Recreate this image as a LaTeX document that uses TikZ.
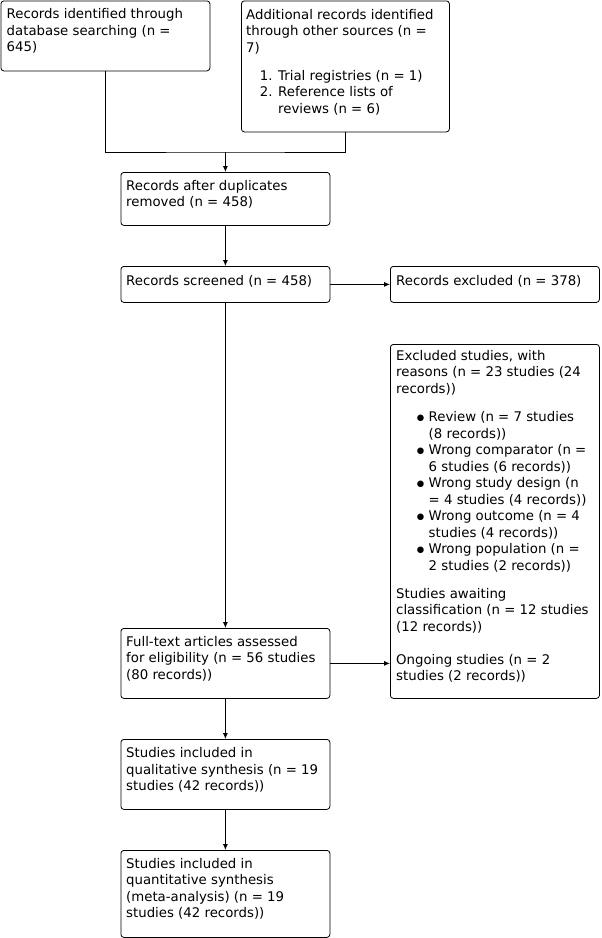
\documentclass[tikz,border=0pt]{standalone}
\usepackage{fontspec}
\setmainfont{DejaVu Sans}
\usetikzlibrary{arrows.meta}
\tikzset{
  box/.style={draw, rounded corners=3pt, line width=0.8pt, anchor=north west, inner sep=0pt},
  txt/.style={anchor=base west, align=left, inner sep=0pt, font=\fontsize{13.3}{16.5}\selectfont},
  conn/.style={line width=0.8pt},
  arr/.style={conn, -{Latex[length=6pt,width=5pt]}}
}
\newcommand{\bul}{\llap{\raisebox{0.6pt}{\fontsize{8.5}{8.5}\selectfont ●}\hspace{4.5pt}}}
\begin{document}
\begin{tikzpicture}[x=1pt,y=-1pt]
\useasboundingbox (0,0) rectangle (602,938);
% boxes
\node[box, minimum width=209pt, minimum height=70pt] (A) at (0.5,0.5) {};
\node[box, minimum width=208pt, minimum height=131pt] (B) at (241,0.5) {};
\node[box, minimum width=209pt, minimum height=53pt] (C) at (120.5,172) {};
\node[box, minimum width=209pt, minimum height=36pt] (D) at (120.5,266) {};
\node[box, minimum width=209pt, minimum height=36pt] (E) at (390,266) {};
\node[box, minimum width=209pt, minimum height=354pt] (G) at (390,344) {};
\node[box, minimum width=209pt, minimum height=70pt] (F) at (120.5,628) {};
\node[box, minimum width=209pt, minimum height=70pt] (H) at (120.5,739) {};
\node[box, minimum width=209pt, minimum height=87pt] (I) at (120.5,850) {};
% texts (anchored at the baseline of the last line)
\node[txt] (tA) at (6.5,51.5) {Records identified through\\database searching (n =\\645)};
\node[txt] (tB) at (246,52) {Additional records identified\\through other sources (n =\\7)};
\node[txt] (tB2) at (278,113) {\llap{1. }Trial registries (n = 1)\\\llap{2. }Reference lists of\\reviews (n = 6)};
\node[txt] (tC) at (126,206.5) {Records after duplicates\\removed (n = 458)};
\node[txt] (tD) at (126,285) {Records screened (n = 458)};
\node[txt] (tE) at (396,285) {Records excluded (n = 378)};
\node[txt] (tG1) at (396,393) {Excluded studies, with\\reasons (n = 23 studies (24\\records))};
\node[txt] (tG2) at (428.5,570) {\bul Review (n = 7 studies\\(8 records))\\\bul Wrong comparator (n =\\6 studies (6 records))\\\bul Wrong study design (n\\= 4 studies (4 records))\\\bul Wrong outcome (n = 4\\studies (4 records))\\\bul Wrong population (n =\\2 studies (2 records))};
\node[txt] (tG3) at (396,631) {Studies awaiting\\classification (n = 12 studies\\(12 records))};
\node[txt] (tG4) at (396,680.5) {Ongoing studies (n = 2\\studies (2 records))};
\node[txt] (tF) at (126,679) {Full-text articles assessed\\for eligibility (n = 56 studies\\(80 records))};
\node[txt] (tH) at (126,790.5) {Studies included in\\qualitative synthesis (n = 19\\studies (42 records))};
\node[txt] (tI) at (126,917.5) {Studies included in\\quantitative synthesis\\(meta-analysis) (n = 19\\studies (42 records))};
% connectors
\coordinate (j) at (C.north |- 0,152);
\draw[conn] (A.south) |- (j) -| (B.south);
\draw[arr] (j) -- (C.north);
\draw[arr] (C.south) -- (D.north);
\draw[arr] (D.east) -- (E.west);
\draw[arr] (D.south) -- (F.north);
\draw[arr] (F.east) -- (F.east -| G.west);
\draw[arr] (F.south) -- (H.north);
\draw[arr] (H.south) -- (I.north);
\end{tikzpicture}
\end{document}
